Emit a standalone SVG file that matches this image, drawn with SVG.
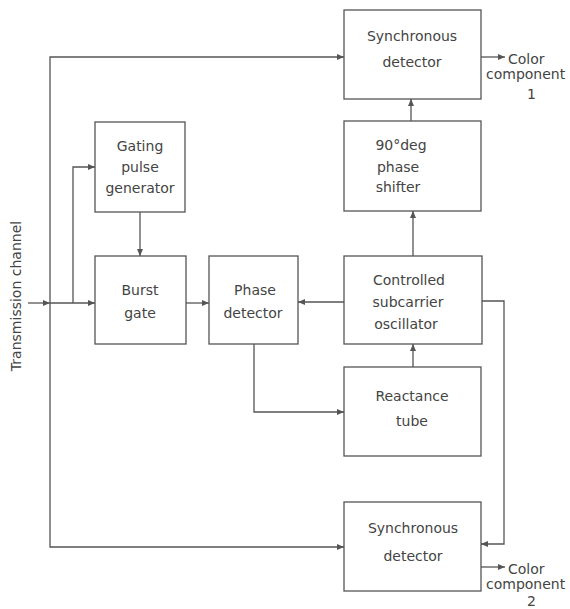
<svg xmlns="http://www.w3.org/2000/svg" width="570" height="609" viewBox="0 0 570 609">
<style>
.box{fill:#fff;stroke:#555;stroke-width:1.3}
.ln{fill:none;stroke:#555;stroke-width:1.3;marker-end:url(#ah)}
text{font-family:"DejaVu Sans","Liberation Sans",sans-serif;font-size:14px;fill:#444}
.c{text-anchor:middle}
</style>
<defs>
<marker id="ah" markerUnits="userSpaceOnUse" markerWidth="8" markerHeight="6" refX="7" refY="3" orient="auto">
<path d="M0,0 L7,3 L0,6 z" fill="#555"/>
</marker>
</defs>
<rect width="570" height="609" fill="#fff"/>
<g id="connectors">
<path class="ln" d="M28,303 H50"/>
<path class="ln" d="M50,303 V57 H344"/>
<path class="ln" d="M50,303 V547 H344"/>
<path class="ln" d="M50,303 H95"/>
<path class="ln" d="M73,303 V167 H95"/>
<path class="ln" d="M140,212 V256"/>
<path class="ln" d="M186,303 H209"/>
<path class="ln" d="M344,302 H298"/>
<path class="ln" d="M254,344 V412 H344"/>
<path class="ln" d="M413,367 V344"/>
<path class="ln" d="M413,256 V211"/>
<path class="ln" d="M411,121 V99"/>
<path class="ln" d="M482,301 H504 V544 H481"/>
<path class="ln" d="M481,57 H505"/>
<path class="ln" d="M481,567 H505"/>
</g>
<g id="sync1">
<rect class="box" x="344" y="10" width="137" height="89"/>
<text class="c" x="412" y="41">Synchronous</text>
<text class="c" x="412" y="67">detector</text>
</g>
<g id="out1">
<text x="508" y="64">Color</text>
<text x="486" y="79">component</text>
<text x="527" y="99">1</text>
</g>
<g id="shifter">
<rect class="box" x="344" y="121" width="137" height="90"/>
<text class="c" x="401" y="150">90°deg</text>
<text class="c" x="398" y="172">phase</text>
<text class="c" x="398" y="192">shifter</text>
</g>
<g id="oscillator">
<rect class="box" x="344" y="256" width="138" height="88"/>
<text class="c" x="409" y="285">Controlled</text>
<text class="c" x="408" y="307">subcarrier</text>
<text class="c" x="406" y="329">oscillator</text>
</g>
<g id="reactance">
<rect class="box" x="344" y="367" width="137" height="89"/>
<text class="c" x="412" y="401">Reactance</text>
<text class="c" x="412" y="426">tube</text>
</g>
<g id="sync2">
<rect class="box" x="344" y="502" width="137" height="89"/>
<text class="c" x="413" y="533">Synchronous</text>
<text class="c" x="413" y="561">detector</text>
</g>
<g id="out2">
<text x="508" y="574">Color</text>
<text x="486" y="589">component</text>
<text x="527" y="606">2</text>
</g>
<g id="gating">
<rect class="box" x="95" y="122" width="90" height="90"/>
<text class="c" x="140" y="151">Gating</text>
<text class="c" x="140" y="172">pulse</text>
<text class="c" x="140" y="193">generator</text>
</g>
<g id="burst">
<rect class="box" x="95" y="256" width="91" height="88"/>
<text class="c" x="140" y="295">Burst</text>
<text class="c" x="140" y="318">gate</text>
</g>
<g id="phasedet">
<rect class="box" x="209" y="256" width="89" height="88"/>
<text class="c" x="255" y="295">Phase</text>
<text class="c" x="253" y="318">detector</text>
</g>
<g id="input">
<text class="c" transform="translate(21,296) rotate(-90)">Transmission channel</text>
</g>
</svg>
